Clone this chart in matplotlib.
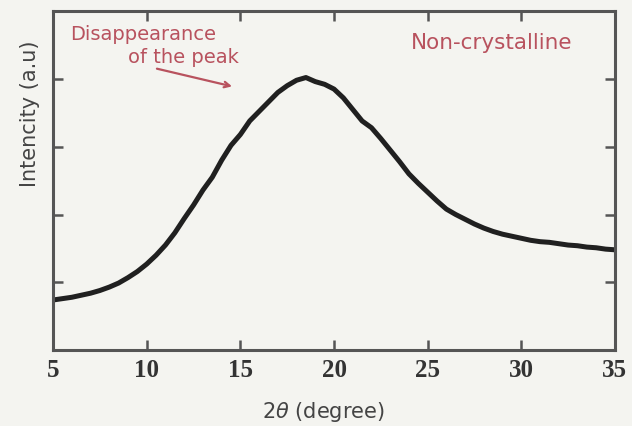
import matplotlib
matplotlib.use("Agg")
import matplotlib.pyplot as plt

# XRD trace of the non-crystalline sample (2theta in degrees, intensity in a.u.)
two_theta = [5.0, 5.5, 6.0, 6.5, 7.0, 7.5, 8.0, 8.5, 9.0, 9.5,
             10.0, 10.5, 11.0, 11.5, 12.0, 12.5, 13.0, 13.5, 14.0, 14.5,
             15.0, 15.5, 16.0, 16.5, 17.0, 17.5, 18.0, 18.5, 19.0, 19.5,
             20.0, 20.5, 21.0, 21.5, 22.0, 22.5, 23.0, 23.5, 24.0, 24.5,
             25.0, 25.5, 26.0, 26.5, 27.0, 27.5, 28.0, 28.5, 29.0, 29.5,
             30.0, 30.5, 31.0, 31.5, 32.0, 32.5, 33.0, 33.5, 34.0, 34.5, 35.0]
intensity = [0.74, 0.76, 0.78, 0.81, 0.84, 0.88, 0.93, 0.99, 1.07, 1.16,
             1.27, 1.40, 1.55, 1.73, 1.94, 2.14, 2.36, 2.55, 2.80, 3.02,
             3.18, 3.38, 3.52, 3.66, 3.80, 3.90, 3.98, 4.02, 3.96, 3.92,
             3.85, 3.72, 3.55, 3.38, 3.28, 3.12, 2.95, 2.78, 2.60, 2.46,
             2.33, 2.20, 2.08, 2.00, 1.93, 1.86, 1.80, 1.75, 1.71, 1.68,
             1.65, 1.62, 1.60, 1.59, 1.57, 1.55, 1.54, 1.52, 1.51, 1.49, 1.48]

x_ticks = [5, 10, 15, 20, 25, 30, 35]
y_ticks = [1, 2, 3, 4]

bg = "#f4f4f0"
axis_col = "#555555"
note_col = "#b8525e"

fig = plt.figure(figsize=(6.32, 4.26), dpi=100, facecolor=bg)
ax = fig.add_axes([0.084, 0.178, 0.889, 0.796], facecolor=bg)

ax.plot(two_theta, intensity, color="#202020", lw=3.6, solid_joinstyle="round",
        solid_capstyle="butt")

ax.set_xlim(5, 35)
ax.set_ylim(0, 5)
ax.set_xticks(x_ticks)
ax.set_yticks(y_ticks)
ax.set_yticklabels([])
ax.set_xticklabels([str(t) for t in x_ticks], family="Liberation Serif",
                   fontweight="bold", fontsize=18, color="#333333")
ax.tick_params(direction="in", top=True, right=True, length=7, width=1.8,
               color=axis_col, pad=6)
for sp in ax.spines.values():
    sp.set_color(axis_col)
    sp.set_linewidth(2.2)

ax.set_xlabel(r"2$\theta$ (degree)", fontsize=15, color="#444444")
ax.xaxis.set_label_coords(0.482, -0.147)
fig.text(0.048, 0.732, "Intencity (a.u)", rotation=90, fontsize=15,
         color="#444444", ha="center", va="center")

ax.text(5.9, 4.66, "Disappearance", fontsize=14, color=note_col,
        ha="left", va="center")
ax.text(9.0, 4.31, "of the peak", fontsize=14, color=note_col,
        ha="left", va="center")
ax.annotate("", xy=(14.7, 3.88), xytext=(10.4, 4.16),
            arrowprops=dict(arrowstyle="->", color=note_col, lw=1.6))
ax.text(28.4, 4.53, "Non-crystalline", fontsize=15.5, color=note_col,
        ha="center", va="center")

fig.savefig("out.png", dpi=100, facecolor=bg)
